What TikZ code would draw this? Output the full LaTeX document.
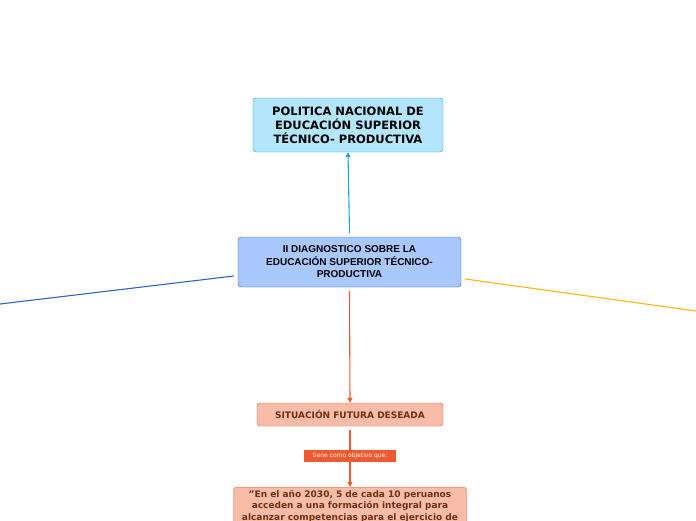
\documentclass[tikz,border=0pt]{standalone}
\usepackage{fontspec}
\setmainfont{DejaVu Sans}
\newfontfamily\arialf{Liberation Sans}
\usetikzlibrary{positioning,arrows.meta}
\definecolor{cyanfill}{HTML}{B3E5FC}
\definecolor{cyanline}{HTML}{1BA1E2}
\definecolor{bluefill}{HTML}{A8C8FF}
\definecolor{blueline}{HTML}{2E63C8}
\definecolor{salmonfill}{HTML}{F9BCA8}
\definecolor{orangeline}{HTML}{EE5A2F}
\definecolor{browntext}{HTML}{6B3410}
\definecolor{yellowline}{HTML}{FDB515}
\tikzset{
  topic/.style={draw,rounded corners=3pt,align=center,font=\bfseries,inner sep=3pt},
  tip/.style={-{Triangle[length=5pt,width=5pt]},line width=1.1pt}
}
\begin{document}
\begin{tikzpicture}[x=1pt,y=-1pt]
\useasboundingbox (0,0) rectangle (696,520);

\node[topic,fill=cyanfill,draw=cyanline,minimum width=190pt,minimum height=54pt,font=\bfseries\fontsize{11.5}{14}\selectfont] (POL) at (348,125) {POLITICA NACIONAL DE\\EDUCACIÓN SUPERIOR\\TÉCNICO- PRODUCTIVA};

\node[topic,fill=bluefill,draw=blueline,minimum width=223pt,minimum height=50pt,font=\arialf\bfseries\fontsize{10}{12.5}\selectfont] (DIAG) at (349.5,262) {II DIAGNOSTICO SOBRE LA\\EDUCACIÓN SUPERIOR TÉCNICO-\\PRODUCTIVA};

\node[topic,fill=salmonfill,draw=orangeline,text=browntext,minimum width=186pt,minimum height=23pt,font=\bfseries\fontsize{9}{11}\selectfont] (SIT) at (350,414.5) {SITUACIÓN FUTURA DESEADA};

\node[fill=orangeline,text=white,inner sep=1.5pt,minimum width=92pt,minimum height=12pt,font=\fontsize{6}{7}\selectfont] (OBJ) at (350,456) {tiene como objetivo que:};

\node[topic,fill=salmonfill,draw=orangeline,text=browntext,minimum width=233pt,anchor=north,font=\bfseries\fontsize{9}{11.5}\selectfont] (META) at (350,487) {"En el año 2030, 5 de cada 10 peruanos\\acceden a una formación integral para\\alcanzar competencias para el ejercicio de\\una actividad productiva"};

\coordinate (LEFT) at (0,304);
\coordinate (RIGHT) at (696,311);

\draw[tip,cyanline] ([yshift=4pt]DIAG.north) -- (POL.south);
\draw[line width=1.1pt,blueline] ([xshift=-4pt,yshift=-14pt]DIAG.west) -- (LEFT);
\draw[line width=1.1pt,yellowline] ([xshift=4pt,yshift=-17pt]DIAG.east) -- (RIGHT);
\draw[tip,orangeline] ([yshift=-4pt]DIAG.south) -- (SIT.north);
\draw[line width=1.1pt,orangeline] ([yshift=-4pt]SIT.south) -- (OBJ.north);
\draw[tip,orangeline] (OBJ.south) -- (META.north);
\end{tikzpicture}
\end{document}
